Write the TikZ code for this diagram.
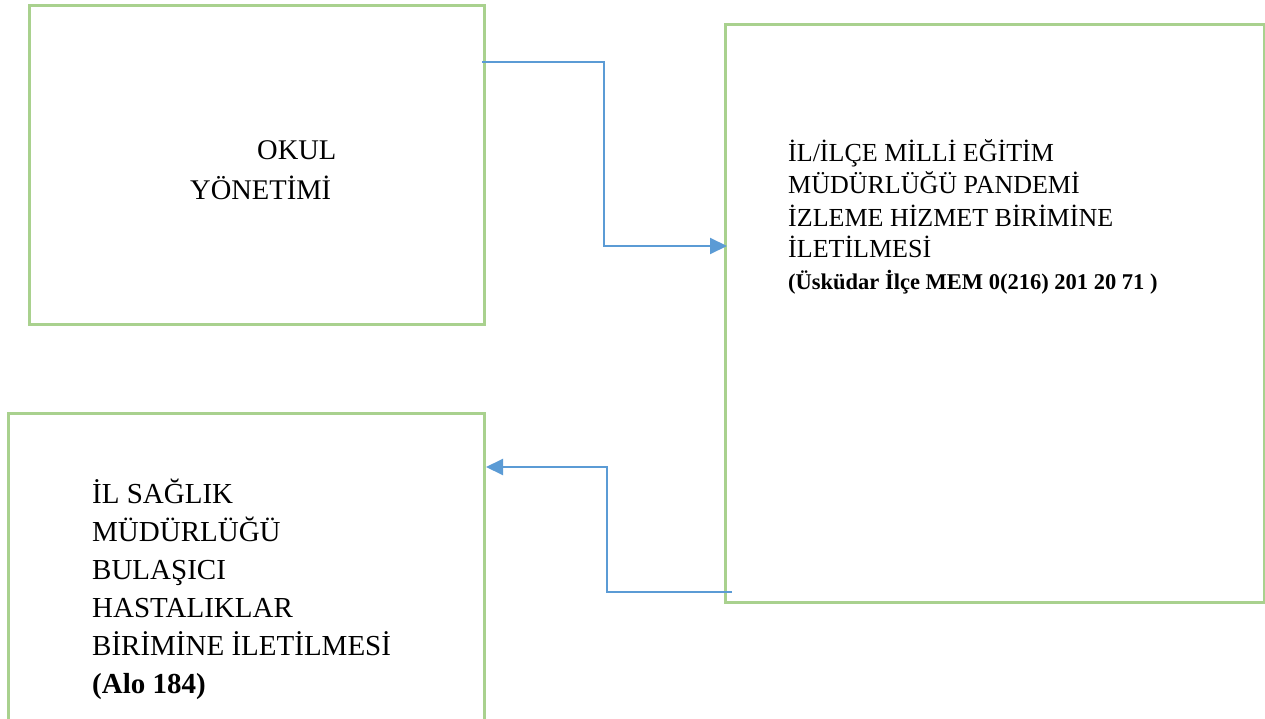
\documentclass[tikz,border=0pt]{standalone}
\usepackage{fontspec}
\setmainfont{Liberation Serif}
\usetikzlibrary{arrows.meta}
\definecolor{boxgreen}{HTML}{A9D18E}
\definecolor{arrowblue}{HTML}{5B9BD5}
\begin{document}
\begin{tikzpicture}[x=1pt,y=-1pt,
  greenbox/.style={draw=boxgreen, line width=3pt, anchor=north west, inner sep=0pt, rectangle},
  flow/.style={draw=arrowblue, line width=2pt, -{Triangle[length=17pt,width=16pt]}},
  lbl/.style={anchor=base west, inner sep=0pt},
  fa/.style={font=\fontsize{28.5}{34}\selectfont},
  fb/.style={font=\fontsize{26}{31}\selectfont},
  fbb/.style={font=\fontsize{22.5}{27}\selectfont\bfseries},
  fc/.style={font=\fontsize{29}{35}\selectfont},
  fcb/.style={font=\fontsize{29}{35}\selectfont\bfseries}]
\clip (0,0) rectangle (1265,719);
\fill[white] (0,0) rectangle (1265,719);
% boxes
\node[greenbox, minimum width=455pt, minimum height=319pt] (okul) at (28,4) {};
\node[greenbox, minimum width=539pt, minimum height=578pt] (mem) at (724,23) {};
\node[greenbox, minimum width=476pt, minimum height=340pt] (saglik) at (7,412) {};
% texts box 1
\node[lbl, fa] (t1a) at (257,160) {OKUL};
\node[lbl, fa] (t1b) at (190,200) {YÖNETİMİ};
% texts box 2
\node[lbl, fb] (t2a) at (788,162) {İL/İLÇE MİLLİ EĞİTİM};
\node[lbl, fb] (t2b) at (788,194) {MÜDÜRLÜĞÜ PANDEMİ};
\node[lbl, fb] (t2c) at (788,226) {İZLEME HİZMET BİRİMİNE};
\node[lbl, fb] (t2d) at (788,258) {İLETİLMESİ};
\node[lbl, fbb] (t2e) at (788,289) {(Üsküdar İlçe MEM 0(216) 201 20 71 )};
% texts box 3
\node[lbl, fc] (t3a) at (92,503) {İL SAĞLIK};
\node[lbl, fc] (t3b) at (92,541) {MÜDÜRLÜĞÜ};
\node[lbl, fc] (t3c) at (92,579) {BULAŞICI};
\node[lbl, fc] (t3d) at (92,617) {HASTALIKLAR};
\node[lbl, fc] (t3e) at (92,655) {BİRİMİNE İLETİLMESİ};
\node[lbl, fcb] (t3f) at (92,693) {(Alo 184)};
% connectors
\coordinate (a1s) at ([xshift=-4pt]okul.east |- 0,62);
\coordinate (a1e) at ([xshift=3pt]mem.west |- 0,246);
\draw[flow] (a1s) -- (604,62) -- (604,246) -- (a1e);
\coordinate (a2s) at ([xshift=8pt]mem.west |- 0,592);
\coordinate (a2e) at (saglik.east |- 0,467);
\draw[flow] (a2s) -- (607,592) -- (607,467) -- (a2e);
\end{tikzpicture}
\end{document}
